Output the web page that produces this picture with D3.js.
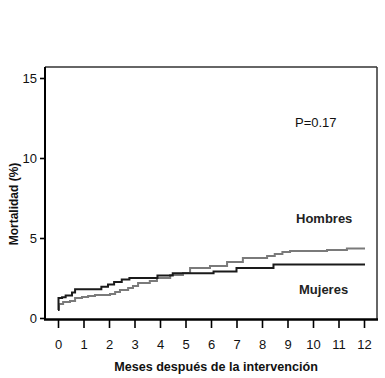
<!DOCTYPE html>
<html><head><meta charset="utf-8">
<script src="https://cdn.jsdelivr.net/npm/d3@7"></script>
<style>
body{margin:0;background:#fff;}
svg{display:block;font-family:"Liberation Sans",Arial,sans-serif;}
</style></head>
<body>
<svg id="c" width="385" height="378"></svg>
<script>
const xTicks = [0,1,2,3,4,5,6,7,8,9,10,11,12];
const yTicks = [0,5,10,15];
const hombresMonths = [0,0.04,0.2,0.47,0.67,0.94,1.18,1.45,2.04,2.24,2.43,2.75,2.94,3.14,3.6,3.88,4.4,4.9,5.18,5.96,6.63,7.25,8.2,8.5,8.8,9.1,10.55,11.33,12.04];
const hombresValues = [0.55,0.88,1.0,1.06,1.25,1.31,1.38,1.44,1.5,1.63,1.75,1.88,2.0,2.19,2.31,2.5,2.69,2.81,3.13,3.25,3.5,3.75,3.88,4.0,4.13,4.19,4.25,4.35,4.35];
const mujeresMonths = [0,0.02,0.16,0.3,0.55,0.67,1.7,1.96,2.2,2.5,2.8,3.9,4.5,6.1,7.0,8.45,12.04];
const mujeresValues = [0.5,1.25,1.3,1.4,1.6,1.8,1.95,2.1,2.25,2.4,2.5,2.65,2.8,2.9,3.13,3.35,3.35];

const svg = d3.select("#c");
const x = d3.scaleLinear().domain([0,12]).range([58,364]);
const y = d3.scaleLinear().domain([0,15]).range([318,78]);

// frame
svg.append("line").attr("x1",45).attr("x2",377).attr("y1",67).attr("y2",67).attr("stroke","#333").attr("stroke-width",1.5);
svg.append("line").attr("x1",377).attr("x2",377).attr("y1",67).attr("y2",319).attr("stroke","#333").attr("stroke-width",1.5);
svg.append("line").attr("x1",45).attr("x2",45).attr("y1",67).attr("y2",320).attr("stroke","#000").attr("stroke-width",2);
svg.append("line").attr("x1",44).attr("x2",378).attr("y1",319.5).attr("y2",319.5).attr("stroke","#000").attr("stroke-width",2.5);

// axes
const xa = svg.append("g").attr("transform","translate(0,320)")
  .call(d3.axisBottom(x).tickValues(xTicks).tickSizeInner(8).tickSizeOuter(0).tickPadding(12));
xa.select(".domain").remove();
xa.selectAll("line").attr("stroke","#000").attr("stroke-width",1.6);
xa.selectAll("text").attr("font-size",13).attr("fill","#111").attr("font-family","Liberation Sans, Arial, sans-serif");

const ya = svg.append("g").attr("transform","translate(45,0)")
  .call(d3.axisLeft(y).tickValues(yTicks).tickSizeInner(5).tickSizeOuter(0).tickPadding(3));
ya.select(".domain").remove();
ya.selectAll("line").attr("stroke","#000").attr("stroke-width",1.6);
ya.selectAll("text").attr("font-size",13).attr("fill","#111").attr("font-family","Liberation Sans, Arial, sans-serif");

// lines
const mk = (ms, vs) => ms.map((m,i)=>[m,vs[i]]);
const line = d3.line().x(d=>x(d[0])).y(d=>y(d[1])).curve(d3.curveStepAfter);
svg.append("path").datum(mk(hombresMonths,hombresValues)).attr("d",line)
  .attr("fill","none").attr("stroke","#7a7a7a").attr("stroke-width",2);
svg.append("path").datum(mk(mujeresMonths,mujeresValues)).attr("d",line)
  .attr("fill","none").attr("stroke","#1a1a1a").attr("stroke-width",2);

// texts
svg.append("text").attr("x",295).attr("y",127).attr("font-size",13).attr("fill","#111").text("P=0.17");
svg.append("text").attr("x",296).attr("y",223).attr("font-size",13).attr("font-weight","bold").attr("fill","#222").text("Hombres");
svg.append("text").attr("x",299).attr("y",294).attr("font-size",13).attr("font-weight","bold").attr("fill","#222").text("Mujeres");

svg.append("text").attr("x",216).attr("y",371).attr("text-anchor","middle").attr("font-size",12.6).attr("font-weight","bold").attr("fill","#111").text("Meses después de la intervención");
svg.append("text").attr("transform","translate(18,204) rotate(-90)").attr("text-anchor","middle").attr("font-size",12).attr("font-weight","bold").attr("fill","#111").text("Mortalidad (%)");
</script>
</body></html>
